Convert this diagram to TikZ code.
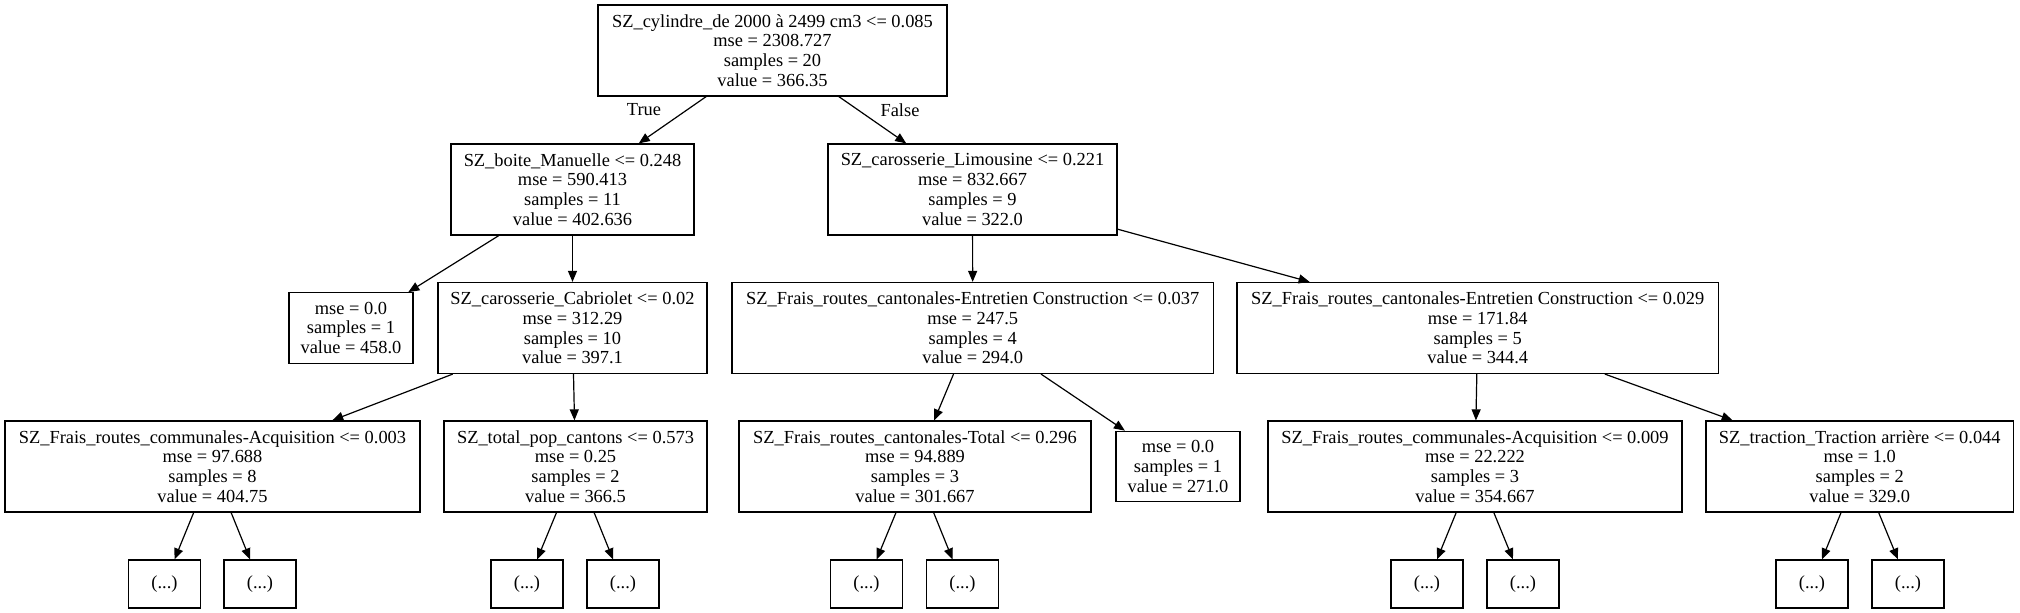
\documentclass[tikz,border=0pt]{standalone}
\usepackage{fontspec}
\setmainfont{Liberation Serif}
\usepackage{tikz}
\usetikzlibrary{arrows.meta}

\newcommand{\treefont}{\fontsize{9.2}{9.9}\selectfont}

\begin{document}
\begin{tikzpicture}[
    % Unités en pixels de l'image d'origine (axe y vers le bas)
    x=0.5pt, y=-0.5pt,
    % Style pour les nœuds de décision
    splitnode/.style={rectangle, draw=black, line width=0.6pt, align=center, inner sep=0pt, minimum height=45.5pt, font=\treefont},
    % Style pour les feuilles (trois lignes)
    leafnode/.style={splitnode, minimum height=35.25pt},
    % Style pour les sous-arbres coupés
    dotsnode/.style={splitnode, minimum width=36pt, minimum height=24pt},
    % Style pour les flèches
    linkarrow/.style={draw, line width=0.6pt, -{Triangle[length=5.5pt, width=4.5pt]}},
    edgelabel/.style={font=\treefont, inner sep=0pt}
]
\useasboundingbox (0,0) rectangle (2020,613);

% Racine
\node[splitnode, minimum width=174.5pt] (root) at (772.5,50.5)
    {SZ\_cylindre\_de 2000 à 2499 cm3 <= 0.085\\mse = 2308.727\\samples = 20\\value = 366.35};

% Niveau 1
\node[splitnode, minimum width=121.5pt] (boite) at (572.5,189.5)
    {SZ\_boite\_Manuelle <= 0.248\\mse = 590.413\\samples = 11\\value = 402.636};
\node[splitnode, minimum width=144.5pt] (limousine) at (972.5,189.5)
    {SZ\_carosserie\_Limousine <= 0.221\\mse = 832.667\\samples = 9\\value = 322.0};

% Niveau 2
\node[leafnode, minimum width=62pt] (leafA) at (351,328)
    {mse = 0.0\\samples = 1\\value = 458.0};
\node[splitnode, minimum width=134.5pt] (cabriolet) at (572.5,328)
    {SZ\_carosserie\_Cabriolet <= 0.02\\mse = 312.29\\samples = 10\\value = 397.1};
\node[splitnode, minimum width=240.75pt] (cantA) at (972.75,328)
    {SZ\_Frais\_routes\_cantonales-Entretien Construction <= 0.037\\mse = 247.5\\samples = 4\\value = 294.0};
\node[splitnode, minimum width=240.75pt] (cantB) at (1477.75,328)
    {SZ\_Frais\_routes\_cantonales-Entretien Construction <= 0.029\\mse = 171.84\\samples = 5\\value = 344.4};

% Niveau 3
\node[splitnode, minimum width=207.5pt] (communA) at (212.5,466.5)
    {SZ\_Frais\_routes\_communales-Acquisition <= 0.003\\mse = 97.688\\samples = 8\\value = 404.75};
\node[splitnode, minimum width=131.5pt] (totpop) at (575.5,466.5)
    {SZ\_total\_pop\_cantons <= 0.573\\mse = 0.25\\samples = 2\\value = 366.5};
\node[splitnode, minimum width=176pt] (cantTotal) at (915,466.5)
    {SZ\_Frais\_routes\_cantonales-Total <= 0.296\\mse = 94.889\\samples = 3\\value = 301.667};
\node[leafnode, minimum width=62pt] (leafB) at (1178,466.5)
    {mse = 0.0\\samples = 1\\value = 271.0};
\node[splitnode, minimum width=207pt] (communB) at (1475,466.5)
    {SZ\_Frais\_routes\_communales-Acquisition <= 0.009\\mse = 22.222\\samples = 3\\value = 354.667};
\node[splitnode, minimum width=153.75pt] (traction) at (1859.75,466.5)
    {SZ\_traction\_Traction arrière <= 0.044\\mse = 1.0\\samples = 2\\value = 329.0};

% Niveau 4 : sous-arbres coupés
\node[dotsnode] (dotsA) at (164.5,584) {(...)};
\node[dotsnode] (dotsB) at (260,584) {(...)};
\node[dotsnode] (dotsC) at (527,584) {(...)};
\node[dotsnode] (dotsD) at (623,584) {(...)};
\node[dotsnode] (dotsE) at (866.5,584) {(...)};
\node[dotsnode] (dotsF) at (962.5,584) {(...)};
\node[dotsnode] (dotsG) at (1427,584) {(...)};
\node[dotsnode] (dotsH) at (1523,584) {(...)};
\node[dotsnode] (dotsI) at (1812,584) {(...)};
\node[dotsnode] (dotsJ) at (1908,584) {(...)};

% Liaisons
\draw[linkarrow] (root) -- (boite);
\draw[linkarrow] (root) -- (limousine);
\draw[linkarrow] (boite) -- (leafA);
\draw[linkarrow] (boite) -- (cabriolet);
\draw[linkarrow] (limousine) -- (cantA);
\draw[linkarrow] (limousine) -- (cantB);
\draw[linkarrow] (cabriolet) -- (communA);
\draw[linkarrow] (cabriolet) -- (totpop);
\draw[linkarrow] (cantA) -- (cantTotal);
\draw[linkarrow] (cantA) -- (leafB);
\draw[linkarrow] (cantB) -- (communB);
\draw[linkarrow] (cantB) -- (traction);
\draw[linkarrow] (communA) -- (dotsA);
\draw[linkarrow] (communA) -- (dotsB);
\draw[linkarrow] (totpop) -- (dotsC);
\draw[linkarrow] (totpop) -- (dotsD);
\draw[linkarrow] (cantTotal) -- (dotsE);
\draw[linkarrow] (cantTotal) -- (dotsF);
\draw[linkarrow] (communB) -- (dotsG);
\draw[linkarrow] (communB) -- (dotsH);
\draw[linkarrow] (traction) -- (dotsI);
\draw[linkarrow] (traction) -- (dotsJ);

% Étiquettes des premières branches
\node[edgelabel] (trueLabel) at (644,110) {True};
\node[edgelabel] (falseLabel) at (900,110) {False};

\end{tikzpicture}
\end{document}
